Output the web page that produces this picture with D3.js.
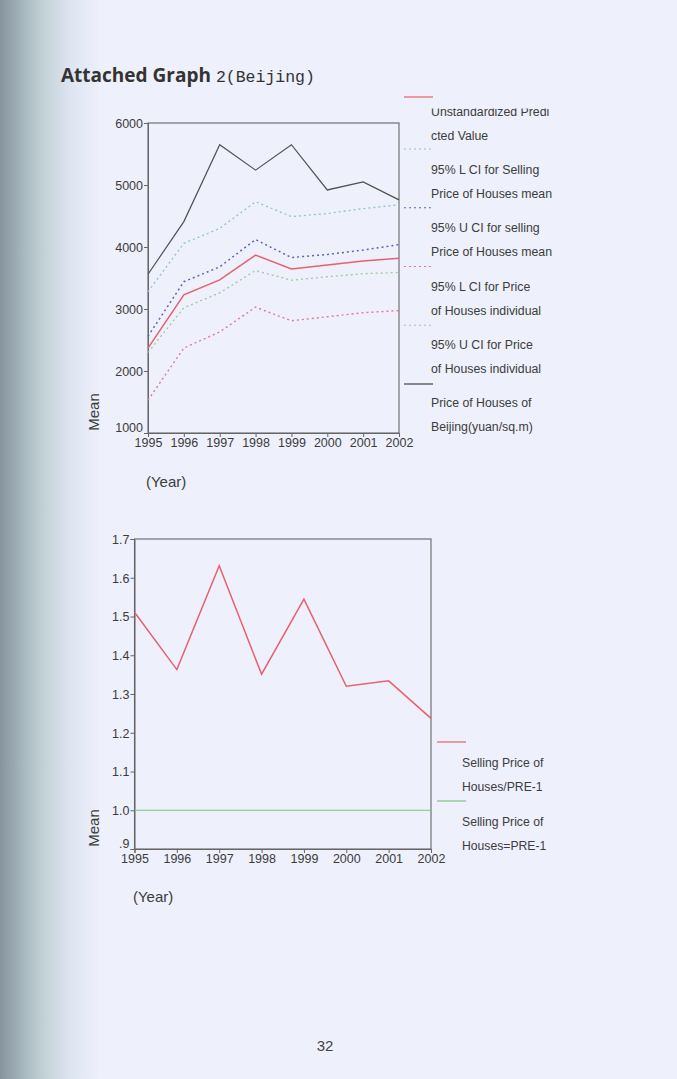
<!DOCTYPE html>
<html>
<head>
<meta charset="utf-8">
<script src="https://cdn.jsdelivr.net/npm/d3@7/dist/d3.min.js"></script>
<style>
  html, body { margin: 0; padding: 0; background: #eef0fb; }
  svg { display: block; }
  text { font-family: "Liberation Sans", Arial, sans-serif; }
</style>
</head>
<body>
<svg id="page" width="677" height="1079"></svg>
<script>
// ---------- DATA ----------
const years = [1995, 1996, 1997, 1998, 1999, 2000, 2001, 2002];
const actualPrice = [3560, 4410, 5650, 5240, 5650, 4920, 5050, 4760];
const predicted   = [2370, 3230, 3470, 3870, 3645, 3710, 3775, 3820];
const lciMean     = [2300, 3020, 3260, 3620, 3465, 3520, 3570, 3590];
const uciMean     = [2560, 3440, 3680, 4120, 3830, 3880, 3950, 4040];
const lciIndiv    = [1530, 2370, 2630, 3030, 2810, 2875, 2940, 2975];
const uciIndiv    = [3280, 4060, 4300, 4730, 4490, 4540, 4620, 4680];
const topTicks = [1000, 2000, 3000, 4000, 5000, 6000];

const ratio    = [1.511, 1.363, 1.631, 1.351, 1.545, 1.320, 1.334, 1.237];
const baseline = [1.0, 1.0, 1.0, 1.0, 1.0, 1.0, 1.0, 1.0];
const bottomTicks = [0.9, 1.0, 1.1, 1.2, 1.3, 1.4, 1.5, 1.6, 1.7];

const topLegend = [
  { lines: ["Unstandardized Predi", "cted Value"], color: "#e8606e", dash: null },
  { lines: ["95% L CI for Selling", "Price of Houses mean"], color: "#8fc3cf", dash: "2,3" },
  { lines: ["95% U CI for selling", "Price of Houses mean"], color: "#5a66b8", dash: "2,3" },
  { lines: ["95% L CI for Price", "of Houses individual"], color: "#e07a92", dash: "2,3" },
  { lines: ["95% U CI for Price", "of Houses individual"], color: "#9fc8b4", dash: "2,3" },
  { lines: ["Price of Houses of", "Beijing(yuan/sq.m)"], color: "#444444", dash: null }
];
const bottomLegend = [
  { lines: ["Selling Price of", "Houses/PRE-1"], color: "#e8606e" },
  { lines: ["Selling Price of", "Houses=PRE-1"], color: "#7cc47c" }
];

// ---------- PAGE ----------
const svg = d3.select("#page");
const defs = svg.append("defs");
const grad = defs.append("linearGradient").attr("id", "edge").attr("x1", "0").attr("x2", "1").attr("y1", "0").attr("y2", "0");
grad.append("stop").attr("offset", "0").attr("stop-color", "#86949e");
grad.append("stop").attr("offset", "0.25").attr("stop-color", "#a9bac0");
grad.append("stop").attr("offset", "0.45").attr("stop-color", "#c4d3d8");
grad.append("stop").attr("offset", "0.7").attr("stop-color", "#dde4f1");
grad.append("stop").attr("offset", "1").attr("stop-color", "#eef0fb");
svg.append("rect").attr("width", 677).attr("height", 1079).attr("fill", "#eef0fb");
svg.append("rect").attr("width", 100).attr("height", 1079).attr("fill", "url(#edge)");

const TXT = "#3c3c3c";

// Title
const title = svg.append("text").attr("x", 61).attr("y", 82).attr("fill", "#333");
title.append("tspan").attr("font-family", "'Open Sans', 'Liberation Sans', sans-serif")
  .attr("font-weight", "bold").attr("font-size", 19).text("Attached Graph");
title.append("tspan").attr("font-family", "'Liberation Mono', monospace")
  .attr("font-size", 16.5).attr("dx", 5).text("2(Beijing)");

function styleAxis(a) {
  a.select(".domain").attr("stroke", "#666");
  a.selectAll(".tick line").attr("stroke", "#666");
  a.selectAll("text").attr("fill", TXT).attr("font-size", 12.5)
    .attr("font-family", "'Liberation Sans', Arial, sans-serif");
}

// ---------- TOP CHART ----------
const xT = d3.scaleLinear().domain([1995, 2002]).range([148, 399]);
const yT = d3.scaleLinear().domain([1000, 6000]).range([433, 123]);

const gTop = svg.append("g");
gTop.append("rect").attr("x", xT(1995)).attr("y", yT(6000))
  .attr("width", xT(2002) - xT(1995)).attr("height", yT(1000) - yT(6000))
  .attr("fill", "none").attr("stroke", "#666").attr("stroke-width", 1.1);

const axL = gTop.append("g").attr("transform", `translate(${xT(1995)},0)`)
  .call(d3.axisLeft(yT).tickValues(topTicks).tickSize(4).tickFormat(d3.format("d")));
const axB = gTop.append("g").attr("transform", `translate(0,${yT(1000)})`)
  .call(d3.axisBottom(xT).tickValues(years).tickSize(4).tickFormat(d3.format("d")));
styleAxis(axL); styleAxis(axB);
axL.selectAll("text").attr("x", -5).attr("dy", d => d === 1000 ? "-0.15em" : "0.35em");
axB.selectAll("text").attr("y", 5);

const lineT = vals => d3.line().x((d, i) => xT(years[i])).y(d => yT(d))(vals);
const topSeries = [
  { v: uciIndiv, c: "#8fc3cf", dash: "2,3", w: 1.3 },
  { v: lciMean, c: "#9fc8a4", dash: "2,3", w: 1.3 },
  { v: lciIndiv, c: "#e07a92", dash: "2,3", w: 1.4 },
  { v: uciMean, c: "#5a66b8", dash: "2,3", w: 1.5 },
  { v: predicted, c: "#e8606e", dash: null, w: 1.5 },
  { v: actualPrice, c: "#505050", dash: null, w: 1.2 }
];
topSeries.forEach(s => {
  gTop.append("path").attr("d", lineT(s.v)).attr("fill", "none")
    .attr("stroke", s.c).attr("stroke-width", s.w)
    .attr("stroke-dasharray", s.dash);
});

gTop.append("text").attr("transform", "translate(99,412) rotate(-90)")
  .attr("text-anchor", "middle").attr("font-size", 15).attr("fill", TXT).text("Mean");
gTop.append("text").attr("x", 146).attr("y", 487).attr("font-size", 15).attr("fill", TXT).text("(Year)");

// top legend
defs.append("clipPath").attr("id", "legclip").append("rect")
  .attr("x", 400).attr("y", 108.5).attr("width", 277).attr("height", 400);
const gLegT = svg.append("g").attr("clip-path", "url(#legclip)");
const legTextY0 = 116, legTextStep = 58.2, legLineY1 = 149, legLineStep = 58.75;
topLegend.forEach((d, i) => {
  const ly = i === 0 ? 97 : legLineY1 + (i - 1) * legLineStep;
  svg.append("line").attr("x1", 404).attr("x2", 433).attr("y1", ly).attr("y2", ly)
    .attr("stroke", d.color).attr("stroke-width", 1.2).attr("stroke-dasharray", d.dash);
  const ty = legTextY0 + i * legTextStep;
  d.lines.forEach((t, j) => {
    gLegT.append("text").attr("x", 431).attr("y", ty + j * 24)
      .attr("font-size", 12.3).attr("fill", TXT).text(t);
  });
});

// ---------- BOTTOM CHART ----------
const xB = d3.scaleLinear().domain([1995, 2002]).range([134.5, 431]);
const yB = d3.scaleLinear().domain([0.9, 1.7]).range([849, 539]);

const gBot = svg.append("g");
gBot.append("rect").attr("x", xB(1995)).attr("y", yB(1.7))
  .attr("width", xB(2002) - xB(1995)).attr("height", yB(0.9) - yB(1.7))
  .attr("fill", "none").attr("stroke", "#666").attr("stroke-width", 1.1);
const fmtB = d => d < 1 ? d3.format(".1f")(d).replace(/^0/, "") : d3.format(".1f")(d);
const axL2 = gBot.append("g").attr("transform", `translate(${xB(1995)},0)`)
  .call(d3.axisLeft(yB).tickValues(bottomTicks).tickSize(4).tickFormat(fmtB));
const axB2 = gBot.append("g").attr("transform", `translate(0,${yB(0.9)})`)
  .call(d3.axisBottom(xB).tickValues(years).tickSize(4).tickFormat(d3.format("d")));
styleAxis(axL2); styleAxis(axB2);
axL2.selectAll("text").attr("x", -5).attr("dy", d => d < 1 ? "-0.15em" : "0.35em");
axB2.selectAll("text").attr("y", 5);

const lineB = vals => d3.line().x((d, i) => xB(years[i])).y(d => yB(d))(vals);
gBot.append("path").attr("d", lineB(baseline)).attr("fill", "none")
  .attr("stroke", "#7cc47c").attr("stroke-width", 1.2);
gBot.append("path").attr("d", lineB(ratio)).attr("fill", "none")
  .attr("stroke", "#e8606e").attr("stroke-width", 1.5);

gBot.append("text").attr("transform", "translate(99,828) rotate(-90)")
  .attr("text-anchor", "middle").attr("font-size", 15).attr("fill", TXT).text("Mean");
gBot.append("text").attr("x", 133).attr("y", 902).attr("font-size", 15).attr("fill", TXT).text("(Year)");

const legB0 = 742, legBStep = 59;
bottomLegend.forEach((d, i) => {
  const y = legB0 + i * legBStep;
  svg.append("line").attr("x1", 437).attr("x2", 466).attr("y1", y).attr("y2", y)
    .attr("stroke", d.color).attr("stroke-width", 1.2);
  d.lines.forEach((t, j) => {
    svg.append("text").attr("x", 462).attr("y", y + 25 + j * 24)
      .attr("font-size", 12.2).attr("fill", TXT).text(t);
  });
});

// page number
svg.append("text").attr("x", 325).attr("y", 1051).attr("text-anchor", "middle")
  .attr("font-family", "'Liberation Serif', serif").attr("font-size", 15).attr("fill", "#444").text("32");
</script>
</body>
</html>
